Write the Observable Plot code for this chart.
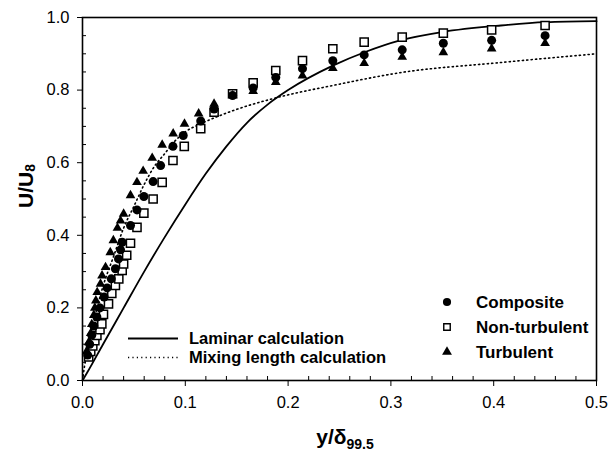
<!DOCTYPE html>
<html>
<head>
<meta charset="utf-8">
<script src="https://cdn.jsdelivr.net/npm/d3@7"></script>
<script src="https://cdn.jsdelivr.net/npm/@observablehq/plot@0.6"></script>
<style>
  html, body { margin: 0; padding: 0; background: #fff; }
  svg { display: block; }
</style>
</head>
<body>
<div id="chart"></div>
<script>
// ---- data ----
const compositeX = [0.005,0.007,0.009,0.011,0.014,0.017,0.021,0.024,0.028,0.032,0.035,0.037,0.0386,0.0467,0.053,0.0597,0.0687,0.076,0.088,0.098,0.115,0.128,0.146,0.166,0.188,0.214,0.2435,0.274,0.311,0.351,0.398,0.450];
const compositeY = [0.07,0.10,0.125,0.15,0.175,0.20,0.23,0.255,0.28,0.308,0.335,0.36,0.381,0.427,0.470,0.507,0.548,0.592,0.645,0.675,0.715,0.748,0.785,0.806,0.835,0.859,0.881,0.897,0.911,0.929,0.937,0.950];

const nonTurbX = [0.006,0.008,0.010,0.012,0.014,0.017,0.0188,0.0204,0.0253,0.0285,0.032,0.0353,0.0386,0.040,0.043,0.0467,0.053,0.0597,0.0687,0.0775,0.088,0.099,0.115,0.128,0.146,0.166,0.188,0.214,0.2435,0.274,0.311,0.351,0.398,0.450];
const nonTurbY = [0.065,0.08,0.095,0.11,0.124,0.14,0.156,0.182,0.211,0.24,0.262,0.280,0.303,0.321,0.345,0.378,0.422,0.461,0.500,0.546,0.606,0.645,0.694,0.739,0.79,0.820,0.854,0.881,0.914,0.932,0.946,0.957,0.966,0.978];

const turbX = [0.004,0.006,0.008,0.009,0.011,0.012,0.013,0.0143,0.0175,0.019,0.0224,0.027,0.030,0.034,0.037,0.040,0.0467,0.053,0.059,0.0678,0.0775,0.0882,0.0992,0.113,0.128,0.146,0.166,0.188,0.214,0.2435,0.274,0.311,0.351,0.398,0.450];
const turbY = [0.08,0.105,0.13,0.155,0.18,0.20,0.22,0.243,0.266,0.289,0.312,0.353,0.386,0.42,0.44,0.459,0.510,0.546,0.577,0.613,0.649,0.680,0.707,0.735,0.762,0.785,0.797,0.822,0.840,0.860,0.874,0.891,0.904,0.914,0.929];

const laminarX = [0,0.005,0.02,0.04,0.06,0.08,0.10,0.12,0.14,0.16,0.18,0.20,0.244,0.275,0.309,0.35,0.407,0.45,0.5];
const laminarY = [0,0.024,0.10,0.20,0.30,0.395,0.485,0.57,0.645,0.71,0.76,0.80,0.868,0.905,0.937,0.96,0.978,0.987,0.99];

const mixingX = [0,0.002,0.005,0.01,0.02,0.03,0.04,0.05,0.06,0.07,0.08,0.09,0.10,0.115,0.147,0.19,0.244,0.309,0.407,0.5];
const mixingY = [0,0.04,0.08,0.15,0.26,0.34,0.42,0.48,0.54,0.59,0.625,0.66,0.685,0.707,0.744,0.78,0.813,0.848,0.876,0.90];

const xMajorTicks = [0,0.1,0.2,0.3,0.4,0.5];
const xMinorTicks = [0.02,0.04,0.06,0.08,0.12,0.14,0.16,0.18,0.22,0.24,0.26,0.28,0.32,0.34,0.36,0.38,0.42,0.44,0.46,0.48];
const yMajorTicks = [0,0.2,0.4,0.6,0.8,1.0];
const yMinorTicks = [0.05,0.1,0.15,0.25,0.3,0.35,0.45,0.5,0.55,0.65,0.7,0.75,0.85,0.9,0.95];

const seriesNames = ["Composite","Non-turbulent","Turbulent"];
const lineNames = ["Laminar calculation","Mixing length calculation"];

// ---- tables ----
const zip = (xs, ys) => xs.map((x, i) => ({x, y: ys[i]}));
const composite = zip(compositeX, compositeY);
const nonTurb = zip(nonTurbX, nonTurbY);
const turb = zip(turbX, turbY);
const laminar = zip(laminarX, laminarY);
const mixing = zip(mixingX, mixingY);

const W = 608, H = 453, ML = 82, MR = 12, MT = 17, MB = 73;
const plotW = W - ML - MR, plotH = H - MT - MB;

const chart = Plot.plot({
  width: W, height: H,
  marginLeft: ML, marginRight: MR, marginTop: MT, marginBottom: MB,
  style: {fontFamily: "'Liberation Sans', Arial, sans-serif", fontSize: "16.5px", color: "#000", background: "#fff", overflow: "visible"},
  x: {domain: [0, 0.5], label: null},
  y: {domain: [0, 1], label: null},
  marks: [
    Plot.line(mixing, {x: "x", y: "y", stroke: "#000", strokeWidth: 1.6, strokeDasharray: "1.2,3.2", curve: "monotone-x"}),
    Plot.line(laminar, {x: "x", y: "y", stroke: "#000", strokeWidth: 1.8, curve: "monotone-x"}),
    Plot.dot(nonTurb, {x: "x", y: "y", symbol: "square", r: 4.6, fill: "#fff", stroke: "#000", strokeWidth: 1.5}),
    Plot.dot(turb, {x: "x", y: "y", symbol: "triangle", r: 3.6, fill: "#000", stroke: "none"}),
    Plot.dot(composite, {x: "x", y: "y", symbol: "circle", r: 4.5, fill: "#000", stroke: "none"}),
    Plot.tickX(xMinorTicks, {x: d => d, stroke: "#000", insetTop: plotH - 4}),
    Plot.tickY(yMinorTicks, {y: d => d, stroke: "#000", insetRight: plotW - 4}),
    Plot.axisX({ticks: xMajorTicks, tickSize: 6, tickPadding: 10, tickFormat: d => d.toFixed(1), label: null}),
    Plot.axisY({ticks: yMajorTicks, tickSize: 5, tickPadding: 8, tickFormat: d => d.toFixed(1), label: null}),
    Plot.frame({stroke: "#000", strokeWidth: 1.6})
  ]
});

const svg = d3.select(chart);
const font = "'Liberation Sans', Arial, sans-serif";

// axis titles
const xl = svg.append("text").attr("x", 345).attr("y", 444).attr("text-anchor", "middle")
  .attr("font-family", font).attr("font-weight", "bold").attr("font-size", 21).attr("fill", "#000");
xl.append("tspan").text("y/δ");
xl.append("tspan").attr("font-size", 14).attr("dy", 5).text("99.5");

const yl = svg.append("text").attr("transform", "translate(33,186) rotate(-90)").attr("text-anchor", "middle")
  .attr("font-family", font).attr("font-weight", "bold").attr("font-size", 21).attr("fill", "#000");
yl.append("tspan").text("U/U");
yl.append("tspan").attr("font-size", 14).attr("dy", 2).text("8");

// legend
const leg = svg.append("g").attr("font-family", font).attr("font-weight", "bold").attr("font-size", 17)
  .attr("fill", "#000").attr("text-anchor", "start");
const symRows = [
  {name: seriesNames[0], y: 302, sym: d3.symbolCircle, size: 52, fill: "#000", stroke: "none"},
  {name: seriesNames[1], y: 327, sym: d3.symbolSquare, size: 42, fill: "#fff", stroke: "#000"},
  {name: seriesNames[2], y: 352, sym: d3.symbolTriangle, size: 42, fill: "#000", stroke: "none"}
];
symRows.forEach(r => {
  leg.append("path").attr("d", d3.symbol(r.sym, r.size)()).attr("transform", `translate(447,${r.y})`)
    .attr("fill", r.fill).attr("stroke", r.stroke).attr("stroke-width", 1.4);
  leg.append("text").attr("x", 476).attr("y", r.y).attr("dy", "0.36em").attr("text-anchor", "start").text(r.name);
});
const lineRows = [
  {name: lineNames[0], y: 338.5, dash: null},
  {name: lineNames[1], y: 357.5, dash: "1.2,3.2"}
];
lineRows.forEach(r => {
  leg.append("line").attr("x1", 128).attr("x2", 178).attr("y1", r.y).attr("y2", r.y)
    .attr("stroke", "#000").attr("stroke-width", r.dash ? 1.6 : 1.8).attr("stroke-dasharray", r.dash);
  leg.append("text").attr("x", 189).attr("y", r.y).attr("dy", "0.36em").attr("font-size", 16.5)
    .attr("text-anchor", "start").text(r.name);
});

document.getElementById("chart").appendChild(chart);
</script>
</body>
</html>
